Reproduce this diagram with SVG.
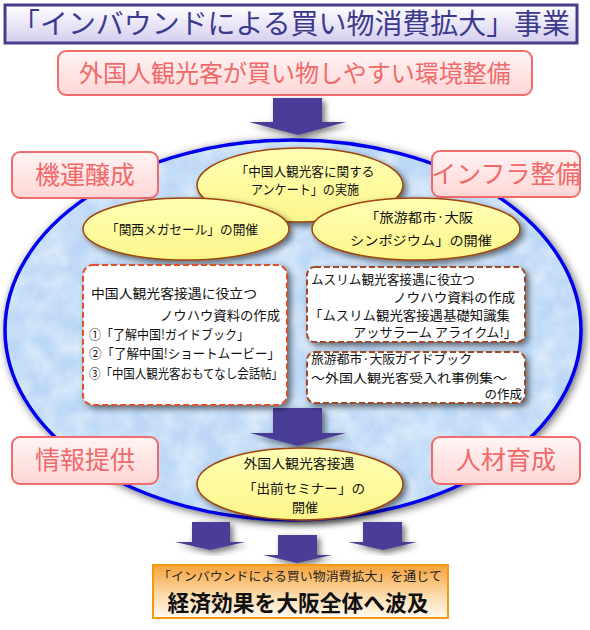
<svg xmlns="http://www.w3.org/2000/svg" width="590" height="630" viewBox="0 0 590 630">
<defs>
<linearGradient id="gTitle" x1="0" y1="0" x2="0" y2="1"><stop offset="0" stop-color="#ffffff"/><stop offset="1" stop-color="#d4cdee"/></linearGradient>
<linearGradient id="gPink" x1="0" y1="0" x2="0" y2="1"><stop offset="0" stop-color="#fff4f4"/><stop offset="1" stop-color="#ffd6d6"/></linearGradient>
<linearGradient id="gYel" x1="0" y1="0" x2="0" y2="1"><stop offset="0" stop-color="#ffffb4"/><stop offset="1" stop-color="#fcf68a"/></linearGradient>
<linearGradient id="gOrange" x1="0" y1="0" x2="0" y2="1"><stop offset="0" stop-color="#f7a23a"/><stop offset="0.55" stop-color="#fcd9a8"/><stop offset="1" stop-color="#fffaf2"/></linearGradient>
<filter id="shadow" x="-20%" y="-20%" width="140%" height="140%"><feGaussianBlur in="SourceAlpha" stdDeviation="3"/><feOffset dx="3" dy="3" result="b"/><feComponentTransfer><feFuncA type="linear" slope="0.55"/></feComponentTransfer><feMerge><feMergeNode/><feMergeNode in="SourceGraphic"/></feMerge></filter>
<filter id="bigShadow" x="-10%" y="-10%" width="120%" height="120%"><feGaussianBlur in="SourceAlpha" stdDeviation="4"/><feOffset dx="2" dy="2"/><feComponentTransfer><feFuncA type="linear" slope="0.6"/></feComponentTransfer><feMerge><feMergeNode/><feMergeNode in="SourceGraphic"/></feMerge></filter>
<filter id="tex" x="0" y="0" width="100%" height="100%"><feTurbulence type="fractalNoise" baseFrequency="0.045" numOctaves="3" seed="5"/><feColorMatrix type="matrix" values="0 0 0 0 1  0 0 0 0 1  0 0 0 0 1  1.1 0 0 0 -0.33"/><feComposite in2="SourceGraphic" operator="in"/></filter>
<style>
.t{font-family:"Noto Sans CJK JP","Noto Sans",sans-serif;}
.pinkbox{fill:url(#gPink);stroke:#f06c6c;stroke-width:2;}
.pinktxt{fill:#f06a6a;font-size:25px;text-anchor:middle;}
.yel{fill:url(#gYel);stroke:#9c4410;stroke-width:1.5;}
.et{font-size:13px;fill:#111;text-anchor:middle;}
.dash{fill:#fff;stroke-width:2;stroke-dasharray:6 3;}
.bt{font-size:13px;fill:#111;}
.bs{font-size:12.5px;fill:#111;}
.arrow{fill:#493c97;}
</style>
</defs>
<rect width="590" height="630" fill="#ffffff"/>

<g id="title">
<rect x="5" y="5" width="572" height="38" fill="url(#gTitle)" stroke="#4a3c8c" stroke-width="3"/>
<text class="t" x="291" y="34" font-size="28" fill="#3c3a8e" text-anchor="middle" textLength="558" lengthAdjust="spacingAndGlyphs">「インバウンドによる買い物消費拡大」事業</text>
</g>

<g id="goal">
<rect x="58" y="51" width="474" height="44" rx="8" class="pinkbox"/>
<text class="t pinktxt" x="295" y="82" style="font-size:24px">外国人観光客が買い物しやすい環境整備</text>
</g>

<g id="big-ellipse">
<ellipse cx="293" cy="330" rx="288" ry="190" fill="#bcd8f6" stroke="#0000ee" stroke-width="3.5" filter="url(#bigShadow)"/>
<ellipse cx="293" cy="330" rx="286" ry="188" fill="#ffffff" filter="url(#tex)" opacity="0.8"/>
</g>

<g id="connectors">
<polygon class="arrow" filter="url(#shadow)" points="273,98 322,98 322,122 346,122 298,135 249,122 273,122"/>
<polygon class="arrow" filter="url(#shadow)" points="273,408 322,408 322,433 346,433 298,446 250,433 273,433"/>
<polygon class="arrow" filter="url(#shadow)" points="192,522 230,522 230,542 245,542 210,550 175,542 192,542"/>
<polygon class="arrow" filter="url(#shadow)" points="278,535 317,535 317,555 332,555 297,563 263,555 278,555"/>
<polygon class="arrow" filter="url(#shadow)" points="363,522 402,522 402,542 417,542 383,550 348,542 363,542"/>
</g>

<g id="kiun">
<rect x="12" y="152" width="146" height="46" rx="8" class="pinkbox"/>
<text class="t pinktxt" x="85" y="184">機運醸成</text>
</g>
<g id="infra">
<rect x="432" y="151" width="148" height="46" rx="8" class="pinkbox"/>
<text class="t pinktxt" x="506" y="183">インフラ整備</text>
</g>
<g id="joho">
<rect x="12" y="437" width="146" height="47" rx="8" class="pinkbox"/>
<text class="t pinktxt" x="85" y="469">情報提供</text>
</g>
<g id="jinzai">
<rect x="432" y="437" width="148" height="47" rx="8" class="pinkbox"/>
<text class="t pinktxt" x="506" y="469">人材育成</text>
</g>

<g id="survey">
<ellipse cx="300" cy="185" rx="103" ry="37" class="yel" filter="url(#shadow)"/>
<text class="t et" x="305" y="176" textLength="139" lengthAdjust="spacingAndGlyphs">「中国人観光客に関する</text>
<text class="t et" x="305" y="194" textLength="108" lengthAdjust="spacingAndGlyphs">アンケート」の実施</text>
</g>
<g id="megasale">
<ellipse cx="186" cy="229" rx="103" ry="31" class="yel" filter="url(#shadow)"/>
<text class="t et" x="182" y="234" textLength="152" lengthAdjust="spacingAndGlyphs">「関西メガセール」の開催</text>
</g>
<g id="symposium">
<ellipse cx="416" cy="229" rx="104" ry="31" class="yel" filter="url(#shadow)"/>
<text class="t et" x="419" y="222" textLength="108" lengthAdjust="spacingAndGlyphs">「旅游都市·大阪</text>
<text class="t et" x="421" y="245" textLength="142" lengthAdjust="spacingAndGlyphs">シンポジウム」の開催</text>
</g>

<g id="china-materials">
<rect x="83" y="265" width="204" height="140" rx="10" class="dash" stroke="#e0502a" filter="url(#shadow)"/>
<text class="t bt" x="91" y="298" textLength="166" lengthAdjust="spacingAndGlyphs">中国人観光客接遇に役立つ</text>
<text class="t bt" x="280" y="320" text-anchor="end" textLength="120" lengthAdjust="spacingAndGlyphs">ノウハウ資料の作成</text>
<text class="t bt" x="89" y="339" textLength="160" lengthAdjust="spacingAndGlyphs">①「了解中国!ガイドブック」</text>
<text class="t bt" x="89" y="358" textLength="191" lengthAdjust="spacingAndGlyphs">②「了解中国!ショートムービー」</text>
<text class="t bt" x="89" y="378" textLength="194" lengthAdjust="spacingAndGlyphs">③「中国人観光客おもてなし会話帖」</text>
</g>

<g id="muslim-materials">
<rect x="307" y="267" width="218" height="75" rx="8" class="dash" stroke="#a04a28" filter="url(#shadow)"/>
<text class="t bt" x="311" y="284" textLength="164" lengthAdjust="spacingAndGlyphs">ムスリム観光客接遇に役立つ</text>
<text class="t bt" x="515" y="302" text-anchor="end" textLength="122" lengthAdjust="spacingAndGlyphs">ノウハウ資料の作成</text>
<text class="t bt" x="309" y="320" textLength="201" lengthAdjust="spacingAndGlyphs">「ムスリム観光客接遇基礎知識集</text>
<text class="t bt" x="353" y="337" textLength="164" lengthAdjust="spacingAndGlyphs">アッサラーム アライクム!」</text>
</g>

<g id="guidebook">
<rect x="307" y="352" width="218" height="51" rx="8" class="dash" stroke="#a04a28" filter="url(#shadow)"/>
<text class="t bs" x="311" y="364" textLength="161" lengthAdjust="spacingAndGlyphs">旅游都市·大阪ガイドブック</text>
<text class="t bs" x="311" y="383" textLength="196" lengthAdjust="spacingAndGlyphs">～外国人観光客受入れ事例集～</text>
<text class="t bs" x="522" y="399" text-anchor="end">の作成</text>
</g>

<g id="seminar">
<ellipse cx="300" cy="484" rx="103" ry="36" class="yel" filter="url(#shadow)"/>
<text class="t et" x="299" y="468" textLength="111" lengthAdjust="spacingAndGlyphs">外国人観光客接遇</text>
<text class="t et" x="304" y="493" textLength="122" lengthAdjust="spacingAndGlyphs">「出前セミナー」の</text>
<text class="t et" x="305" y="512">開催</text>
</g>

<g id="result">
<rect x="153" y="565" width="295" height="53" fill="url(#gOrange)" stroke="#f59a10" stroke-width="2"/>
<text class="t" x="300" y="581" font-size="12" fill="#222" text-anchor="middle" textLength="284" lengthAdjust="spacingAndGlyphs">「インバウンドによる買い物消費拡大」を通じて</text>
<text class="t" x="298" y="611" font-size="22" font-weight="bold" fill="#111" text-anchor="middle" textLength="261" lengthAdjust="spacingAndGlyphs">経済効果を大阪全体へ波及</text>
</g>
</svg>
